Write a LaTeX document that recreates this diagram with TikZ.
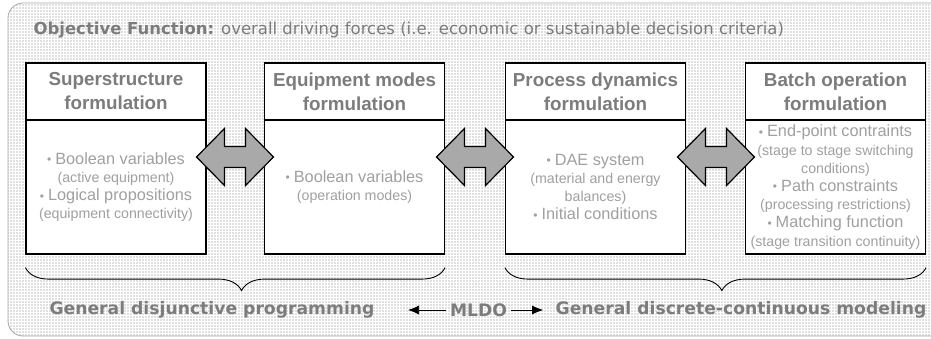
\documentclass[tikz,border=0pt]{standalone}
\usepackage{fontspec}
\setmainfont{Liberation Sans}
\newfontfamily\verd{DejaVu Sans}
\usetikzlibrary{arrows.meta,%
	decorations.pathreplacing%
}
\definecolor{headgray}{HTML}{7C7C7C}
\definecolor{itemgray}{HTML}{999999}
\definecolor{subgray}{HTML}{A0A0A0}
\definecolor{bggray}{HTML}{E0E0E0}
\definecolor{framegray}{HTML}{A8A8A8}
\definecolor{arrowgray}{HTML}{A9A9A9}
\newcommand{\itm}{{\fontsize{12}{18}\selectfont\raisebox{0.5pt}{•}}\hspace{4pt}}
\newcommand{\bigline}[1]{{\fontsize{16.3}{18}\selectfont #1}}
\tikzset{
	boxhead/.style={draw, line width=1.2pt, fill=white, minimum width=180pt,
		minimum height=57pt, align=center, text=headgray,
		font=\fontsize{18.8}{24}\selectfont\bfseries},
	boxbody/.style={draw, line width=1.2pt, fill=white, minimum width=180pt,
		minimum height=134pt, align=center, text=subgray,
		font=\fontsize{14.2}{18.2}\selectfont},
	blockarrow/.style={draw, line width=1.2pt, fill=arrowgray},
	bracket/.style={draw, line width=0.9pt, decorate,
		decoration={brace, mirror, amplitude=23pt, aspect=0.515}},
	bottomtext/.style={text=headgray, font=\verd\fontsize{17.2}{20}\selectfont\bfseries}
}
\begin{document}
\begin{tikzpicture}[x=1pt, y=-1pt]
	\useasboundingbox (0,0) rectangle (931,338);
	% background
	\fill[bggray, rounded corners=15pt] (8,3) rectangle (950,336);
	\begin{scope}
	\clip[rounded corners=15pt] (8,3) rectangle (950,336);
	\draw[white, line width=0.5pt, step=3pt] (0,0) grid (950,340);
	\end{scope}
	\draw[framegray, line width=0.8pt, rounded corners=15pt] (8,3) rectangle (950,336);

	\node[anchor=west, text=headgray, font=\verd\fontsize{16.5}{19}\selectfont] (OF) at (30,30)
		{\textbf{Objective Function:} overall driving forces (i.e. economic or sustainable decision criteria)};

	\begin{scope}[every node/.style={boxhead}]
	\node (SH) at (116,91.5) {Superstructure\\formulation};
	\node (EH) at (354.5,91.5) {Equipment modes\\formulation};
	\node (PH) at (595.5,91.5) {Process dynamics\\formulation};
	\node (BH) at (835.5,91.5) {Batch operation\\formulation};
	\end{scope}

	\begin{scope}[every node/.style={boxbody}]
	\node (SB) at (116,187) {\bigline{\itm Boolean variables}\\(active equipment)\\
		\bigline{\itm Logical propositions}\\(equipment connectivity)};
	\node (EB) at (354.5,187) {\bigline{\itm Boolean variables}\\(operation modes)};
	\node (PB) at (595.5,187) {\bigline{\itm DAE system}\\(material and energy\\balances)\\
		\bigline{\itm Initial conditions}};
	\node (BB) at (835.5,187) {\bigline{\itm End-point contraints}\\(stage to stage switching\\conditions)\\
		\bigline{\itm Path constraints}\\(processing restrictions)\\
		\bigline{\itm Matching function}\\(stage transition continuity)};
	\end{scope}

	% double arrows between the boxes
	\foreach \cx in {235,475,716}{
		\path[blockarrow] (\cx,157) ++(-38.5,0) -- ++(28,-28.5) -- ++(0,18) -- ++(21,0)
			-- ++(0,-18) -- ++(28,28.5) -- ++(-28,28.5) -- ++(0,-18) -- ++(-21,0)
			-- ++(0,18) -- cycle;
	}

	% braces
	\path[bracket] ([yshift=-13pt]SB.south west) -- ([yshift=-13pt]EB.south east);
	\path[bracket] ([yshift=-13pt]PB.south west) -- ([yshift=-13pt]BB.south east);

	\begin{scope}[every node/.style={bottomtext}]
	\node (GDP) at (212,310) {General disjunctive programming};
	\node (ML) at (478.5,310) {MLDO};
	\node (GDC) at (741,310) {General discrete-continuous modeling};
	\end{scope}
	\begin{scope}[every path/.style={draw=black, line width=0.7pt}]
	\path [-{Latex[length=11pt,width=9pt]}, shorten >=30pt] (ML) -- (GDP);
	\path [-{Latex[length=11pt,width=9pt]}, shorten >=9pt] (ML) -- (GDC);
	\end{scope}
\end{tikzpicture}
\end{document}
